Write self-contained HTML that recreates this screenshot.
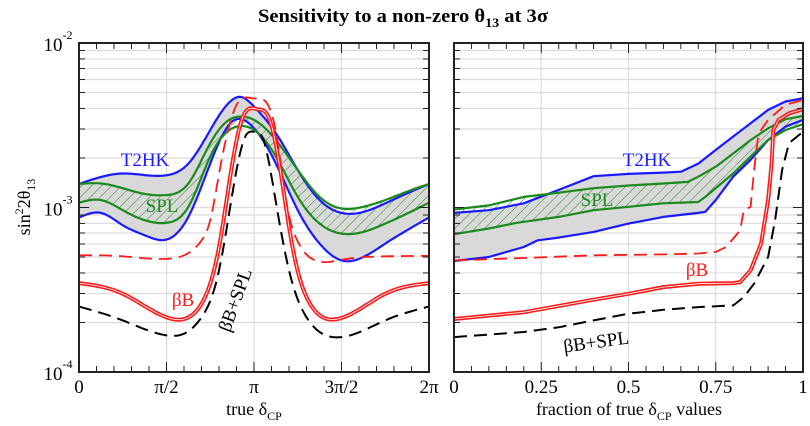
<!DOCTYPE html>
<html><head><meta charset="utf-8"><style>
html,body{margin:0;padding:0;background:#fff;}
svg{display:block;font-family:"Liberation Serif",serif;}
</style></head><body>
<svg id="chart" width="810" height="426" viewBox="0 0 810 426" xmlns="http://www.w3.org/2000/svg">
<defs>
<pattern id="hatch" patternUnits="userSpaceOnUse" width="7" height="7" patternTransform="rotate(45)">
<line x1="0" y1="0" x2="0" y2="7" stroke="#2a8a2a" stroke-width="1"/>
</pattern>
<clipPath id="clipL"><rect x="79" y="43" width="350" height="329"/></clipPath>
<clipPath id="clipR"><rect x="454" y="43" width="349" height="329"/></clipPath>
</defs>
<text x="403" y="22" text-anchor="middle" font-size="19" font-weight="bold" textLength="290" lengthAdjust="spacingAndGlyphs">Sensitivity to a non-zero θ<tspan font-size="13" dy="5">13</tspan><tspan dy="-5"> at 3σ</tspan></text>
<g id="gL"></g>
<g id="gR"></g>
<text transform="translate(30,207) rotate(-90)" text-anchor="middle" font-size="18">sin<tspan font-size="12" dy="-7">2</tspan><tspan dy="7">2θ</tspan><tspan font-size="12" dy="5">13</tspan></text>
<text x="254" y="415" text-anchor="middle" font-size="18">true δ<tspan font-size="12" dy="5">CP</tspan></text>
<text x="629" y="415" text-anchor="middle" font-size="18">fraction of true δ<tspan font-size="12" dy="5">CP</tspan><tspan dy="-5"> values</tspan></text>
</svg>
<script>
// ---- Left panel data (x in units of pi) ----
const leftX_T2HKup = [0,0.25,0.5,0.625,0.75,0.875,0.93,1.0,1.125,1.25,1.375,1.5,1.625,1.75,1.875,2];
const leftT2HKup = [1.39e-3,1.61e-3,1.57e-3,1.85e-3,2.96e-3,4.51e-3,4.69e-3,4.11e-3,2.83e-3,1.69e-3,1.11e-3,9.27e-4,9.4e-4,1.06e-3,1.22e-3,1.39e-3];
const leftX_full = [0,0.125,0.25,0.375,0.5,0.625,0.75,0.875,0.93,1.0,1.125,1.25,1.375,1.5,1.625,1.75,1.875,2];
const leftT2HKlo = [8.69e-4,9.27e-4,7.8e-4,6.78e-4,6.38e-4,8.77e-4,1.85e-3,3.33e-3,3.44e-3,3.03e-3,1.85e-3,9.63e-4,6.03e-4,4.77e-4,5.0e-4,6.03e-4,7.28e-4,8.69e-4];
const leftSPLup = [1.39e-3,1.40e-3,1.31e-3,1.21e-3,1.19e-3,1.40e-3,2.46e-3,3.49e-3,3.57e-3,3.41e-3,2.57e-3,1.69e-3,1.16e-3,9.86e-4,1.01e-3,1.11e-3,1.25e-3,1.39e-3];
const leftSPLlo = [1.07e-3,1.11e-3,9.63e-4,8.37e-4,8.07e-4,1.01e-3,2.04e-3,3.03e-3,3.13e-3,2.96e-3,2.04e-3,1.16e-3,7.98e-4,6.94e-4,7.11e-4,7.98e-4,9.19e-4,1.07e-3];
const leftX_bBd = [0,0.25,0.5,0.6,0.7,0.75,0.8,0.85,0.9,1.0,1.08,1.13,1.18,1.25,1.35,1.5,1.75,2];
const leftBBdash = [5.12e-4,5.05e-4,4.87e-4,5.12e-4,6.3e-4,8.4e-4,1.6e-3,2.9e-3,4.2e-3,4.6e-3,4.2e-3,2.7e-3,1.16e-3,6.2e-4,4.77e-4,4.81e-4,5.05e-4,5.08e-4];
const leftX_bB = [0,0.25,0.5,0.6,0.7,0.8,0.87,0.93,1.02,1.09,1.15,1.22,1.32,1.42,1.5,1.75,2];
const leftBB = [3.47e-4,2.99e-4,2.15e-4,2.1e-4,2.6e-4,5.75e-4,1.69e-3,3.41e-3,3.96e-3,3.4e-3,1.69e-3,5.75e-4,2.6e-4,2.1e-4,2.13e-4,2.99e-4,3.47e-4];
const leftX_bBS = [0,0.25,0.5,0.6,0.7,0.8,0.88,0.95,1.0,1.05,1.12,1.2,1.3,1.45,1.5,1.75,2];
const leftBBSPL = [2.5e-4,2.06e-4,1.67e-4,1.71e-4,2.15e-4,4.15e-4,1.28e-3,2.7e-3,2.89e-3,2.64e-3,1.16e-3,4.15e-4,2.15e-4,1.63e-4,1.63e-4,2.06e-4,2.5e-4];
// ---- Right panel data (fraction) ----
const rX15 = [0,0.1,0.2,0.3,0.4,0.5,0.6,0.65,0.7,0.75,0.8,0.85,0.9,0.95,1.0];
const rightT2HKup = [9.27e-4,9.63e-4,1.06e-3,1.28e-3,1.55e-3,1.60e-3,1.63e-3,1.65e-3,1.85e-3,2.24e-3,2.70e-3,3.25e-3,3.92e-3,4.41e-3,4.62e-3];
const rX_T2lo = [0,0.1,0.2,0.24,0.3,0.4,0.5,0.6,0.7,0.72,0.75,0.8,0.85,0.9,0.95,1.0];
const rightT2HKlo = [4.73e-4,5.0e-4,5.75e-4,6.32e-4,6.56e-4,7.11e-4,7.98e-4,8.77e-4,9.27e-4,9.4e-4,1.11e-3,1.54e-3,1.95e-3,2.57e-3,3.10e-3,3.41e-3];
const rX_SPLup = [0,0.1,0.2,0.3,0.4,0.5,0.6,0.67,0.7,0.75,0.8,0.85,0.9,0.95,1.0];
const rightSPLup = [9.72e-4,1.03e-3,1.16e-3,1.23e-3,1.31e-3,1.36e-3,1.40e-3,1.43e-3,1.54e-3,1.77e-3,2.13e-3,2.57e-3,3.03e-3,3.44e-3,3.60e-3];
const rX_SPLlo = [0,0.1,0.18,0.3,0.4,0.5,0.6,0.7,0.72,0.8,0.85,0.9,0.95,1.0];
const rightSPLlo = [6.88e-4,7.45e-4,8.07e-4,8.77e-4,9.63e-4,1.01e-3,1.06e-3,1.08e-3,1.16e-3,1.61e-3,2.04e-3,2.57e-3,2.96e-3,3.21e-3];
const rX_bBd = [0,0.2,0.4,0.6,0.7,0.75,0.78,0.82,0.83,0.85,0.86,0.87,0.88,0.9,0.95,1.0];
const rightBBdash = [4.77e-4,4.93e-4,5.12e-4,5.19e-4,5.25e-4,5.37e-4,5.75e-4,7.28e-4,9.63e-4,1.01e-3,1.69e-3,2.57e-3,2.96e-3,3.41e-3,4.21e-3,4.51e-3];
const rX_bB = [0,0.2,0.4,0.5,0.6,0.7,0.8,0.82,0.85,0.88,0.9,0.91,0.915,0.93,0.96,1.0];
const rightBB = [2.10e-4,2.31e-4,2.75e-4,2.99e-4,3.28e-4,3.44e-4,3.47e-4,3.52e-4,4.15e-4,6.03e-4,1.11e-3,1.85e-3,2.96e-3,3.41e-3,3.74e-3,3.96e-3];
const rX_bBS = [0,0.2,0.3,0.4,0.5,0.6,0.7,0.8,0.83,0.86,0.9,0.92,0.94,0.96,1.0];
const rightBBSPL = [1.63e-4,1.75e-4,1.87e-4,2.06e-4,2.26e-4,2.39e-4,2.48e-4,2.54e-4,2.85e-4,3.44e-4,5.0e-4,8.37e-4,1.69e-3,2.46e-3,2.89e-3];
// ---- Tick labels ----
const leftTickVals = [0,0.5,1,1.5,2];
const leftTickLabels = ["0","π/2","π","3π/2","2π"];
const rightTickVals = [0,0.25,0.5,0.75,1];
const rightTickLabels = ["0","0.25","0.5","0.75","1"];
const yDecades = [-4,-3,-2];

const NS="http://www.w3.org/2000/svg";
const Y0=372, Y1=43;
function yS(v){return Y0-(Math.log10(v)+4)/2*(Y0-Y1);}
const L={x0:79,x1:429,dmax:2}, R={x0:454,x1:803,dmax:1};
function xS(P,d){return P.x0+d/P.dmax*(P.x1-P.x0);}
function mk(tag,attrs,parent){const e=document.createElementNS(NS,tag);for(const k in attrs)e.setAttribute(k,attrs[k]);parent.appendChild(e);return e;}
// natural cubic spline in log space, sampled densely
function spline(xs,ys){const n=xs.length,y=ys.map(v=>Math.log10(v));const h=[],al=[0],l=[1],mu=[0],z=[0],c=new Array(n).fill(0),b=[],d=[];
 for(let i=0;i<n-1;i++)h.push(xs[i+1]-xs[i]);
 for(let i=1;i<n-1;i++)al.push(3/h[i]*(y[i+1]-y[i])-3/h[i-1]*(y[i]-y[i-1]));
 for(let i=1;i<n-1;i++){l[i]=2*(xs[i+1]-xs[i-1])-h[i-1]*mu[i-1];mu[i]=h[i]/l[i];z[i]=(al[i]-h[i-1]*z[i-1])/l[i];}
 for(let j=n-2;j>=0;j--){c[j]=(j>0?z[j]:0)-mu[j]*c[j+1];b[j]=(y[j+1]-y[j])/h[j]-h[j]*(c[j+1]+2*c[j])/3;d[j]=(c[j+1]-c[j])/(3*h[j]);}
 const oX=[],oY=[];
 for(let i=0;i<n-1;i++){const N=14;for(let k=0;k<N;k++){const t=h[i]*k/N;oX.push(xs[i]+t);oY.push(Math.pow(10,y[i]+b[i]*t+c[i]*t*t+d[i]*t*t*t));}}
 oX.push(xs[n-1]);oY.push(ys[n-1]);return [oX,oY];}
function pts(P,xs,ys,sm){if(sm){const r=spline(xs,ys);xs=r[0];ys=r[1];}return xs.map((x,i)=>[xS(P,x),yS(ys[i])]);}
function poly(p){return "M"+p.map(q=>q[0].toFixed(1)+","+q[1].toFixed(1)).join("L");}
function band(pu,pl){return poly(pu)+poly(pl.slice().reverse()).replace("M","L")+"Z";}

function axes(g,P,tv){
 for(const dec of [-4,-3]){for(let m=2;m<=10;m++){const y=yS(m*Math.pow(10,dec));
  const ln=mk("line",{x1:P.x0,x2:P.x1,y1:y,y2:y,stroke:"#dcdcdc","stroke-width":1.2},g);
  
  }}
 tv.forEach(v=>{const x=xS(P,v);const ln=mk("line",{x1:x,x2:x,y1:Y1,y2:Y0,stroke:"#dcdcdc","stroke-width":1.2},g);
  
  });
}
function frame(g,P,tv,tl,minorN,nameP,yLabels){
 const tk=mk("g",{stroke:"#222","stroke-width":1},g);
 
 
 for(let i=0;i<=minorN;i++){const x=P.x0+(P.x1-P.x0)*i/minorN;const len=(i%5==0)?10:6;
  mk("line",{x1:x,x2:x,y1:Y0,y2:Y0-len},tk);mk("line",{x1:x,x2:x,y1:Y1,y2:Y1+len},tk);}
 for(const dec of [-4,-3]){for(let m=1;m<=10;m++){const y=yS(m*Math.pow(10,dec));const len=(m==1||m==10)?10:6;
  mk("line",{x1:P.x0,x2:P.x0+len,y1:y,y2:y},tk);mk("line",{x1:P.x1,x2:P.x1-len,y1:y,y2:y},tk);}}
 const fr=mk("rect",{x:P.x0,y:Y1,width:P.x1-P.x0,height:Y0-Y1,fill:"none",stroke:"#222","stroke-width":2},g);
 
 
 tv.forEach((v,i)=>{const t=mk("text",{x:xS(P,v),y:393,"text-anchor":"middle","font-size":19},g);t.textContent=tl[i];
  
  });
 if(yLabels){yDecades.forEach(dc=>{const t=mk("text",{x:58,y:yS(Math.pow(10,dc))+8,"text-anchor":"middle","font-size":19},g);
  t.textContent="10";const s=mk("tspan",{"font-size":12,dy:-12},t);s.textContent=String(dc);
  
  });}
}
function line(g,d,color,w,dash,name){const p=mk("path",{d:d,fill:"none",stroke:color,"stroke-width":w,"stroke-linejoin":"round"},g);if(dash)p.setAttribute("stroke-dasharray",dash);
 
 return p;}

function panel(g,P,sm,clip,D,tv,tl,nameP,yLab){
 axes(g,P,tv);
 const c=mk("g",{"clip-path":"url(#"+clip+")"},g);
 
 
 const tu=pts(P,D.tux,D.tu,sm), tlo=pts(P,D.tlx,D.tl,sm), su=pts(P,D.sux,D.su,sm), sl=pts(P,D.slx,D.sl,sm);
 const gb=mk("path",{d:band(tu,tlo),fill:"#d9d9d9",stroke:"none"},c);
 
 
 const hb=mk("path",{d:band(su,sl),fill:"url(#hatch)",stroke:"none"},c);
 
 
 line(c,poly(tu),"#1a1aff",2.2,null,'t2hk-upper-line');
 line(c,poly(tlo),"#1a1aff",2.2,null,'t2hk-lower-line');
 line(c,poly(su),"#1a8a1a",2.2,null,'spl-upper-line');
 line(c,poly(sl),"#1a8a1a",2.2,null,'spl-lower-line');
 line(c,poly(pts(P,D.bdx,D.bd,sm)),"#ff1a1a",1.8,"13,7",'betabeam-dashed-line');
 const bb=poly(pts(P,D.bbx,D.bb,sm));
 line(c,bb,"#ff1a1a",4,null,'betabeam-solid-line');
 line(c,bb,"#ffffff",0.8,null,'betabeam-solid-inner');
 line(c,poly(pts(P,D.bsx,D.bs,sm)),"#000",2,"13,7",'betabeam-spl-dashed-line');
 frame(g,P,tv,tl,20,nameP,yLab);
}
const gL=document.getElementById("gL"), gR=document.getElementById("gR");
panel(gL,L,true,"clipL",{tux:leftX_T2HKup,tu:leftT2HKup,tlx:leftX_full,tl:leftT2HKlo,sux:leftX_full,su:leftSPLup,slx:leftX_full,sl:leftSPLlo,
 bdx:leftX_bBd,bd:leftBBdash,bbx:leftX_bB,bb:leftBB,bsx:leftX_bBS,bs:leftBBSPL},leftTickVals,leftTickLabels,"left",true);
panel(gR,R,false,"clipR",{tux:rX15,tu:rightT2HKup,tlx:rX_T2lo,tl:rightT2HKlo,sux:rX_SPLup,su:rightSPLup,slx:rX_SPLlo,sl:rightSPLlo,
 bdx:rX_bBd,bd:rightBBdash,bbx:rX_bB,bb:rightBB,bsx:rX_bBS,bs:rightBBSPL},rightTickVals,rightTickLabels,"right",false);

function lbl(txt,x,y,color,rot,name){const t=mk("text",{x:x,y:y,fill:color,"font-size":19,"text-anchor":"middle"},document.getElementById("chart"));
 if(rot)t.setAttribute("transform","rotate("+rot+" "+x+" "+y+")");t.textContent=txt;
 
 }
lbl("T2HK",145,166,"#1a1aff",0,'left-t2hk-label');
lbl("SPL",162,212,"#1a8a1a",0,'left-spl-label');
lbl("βB",183,306,"#ff1a1a",0,'left-betabeam-label');
lbl("βB+SPL",241,302,"#000",-70,'left-betabeam-spl-label');
lbl("T2HK",647,166,"#1a1aff",0,'right-t2hk-label');
lbl("SPL",597,206,"#1a8a1a",0,'right-spl-label');
lbl("βB",697,276,"#ff1a1a",0,'right-betabeam-label');
lbl("βB+SPL",597,348,"#000",-8,'right-betabeam-spl-label');
</script>
</body></html>
